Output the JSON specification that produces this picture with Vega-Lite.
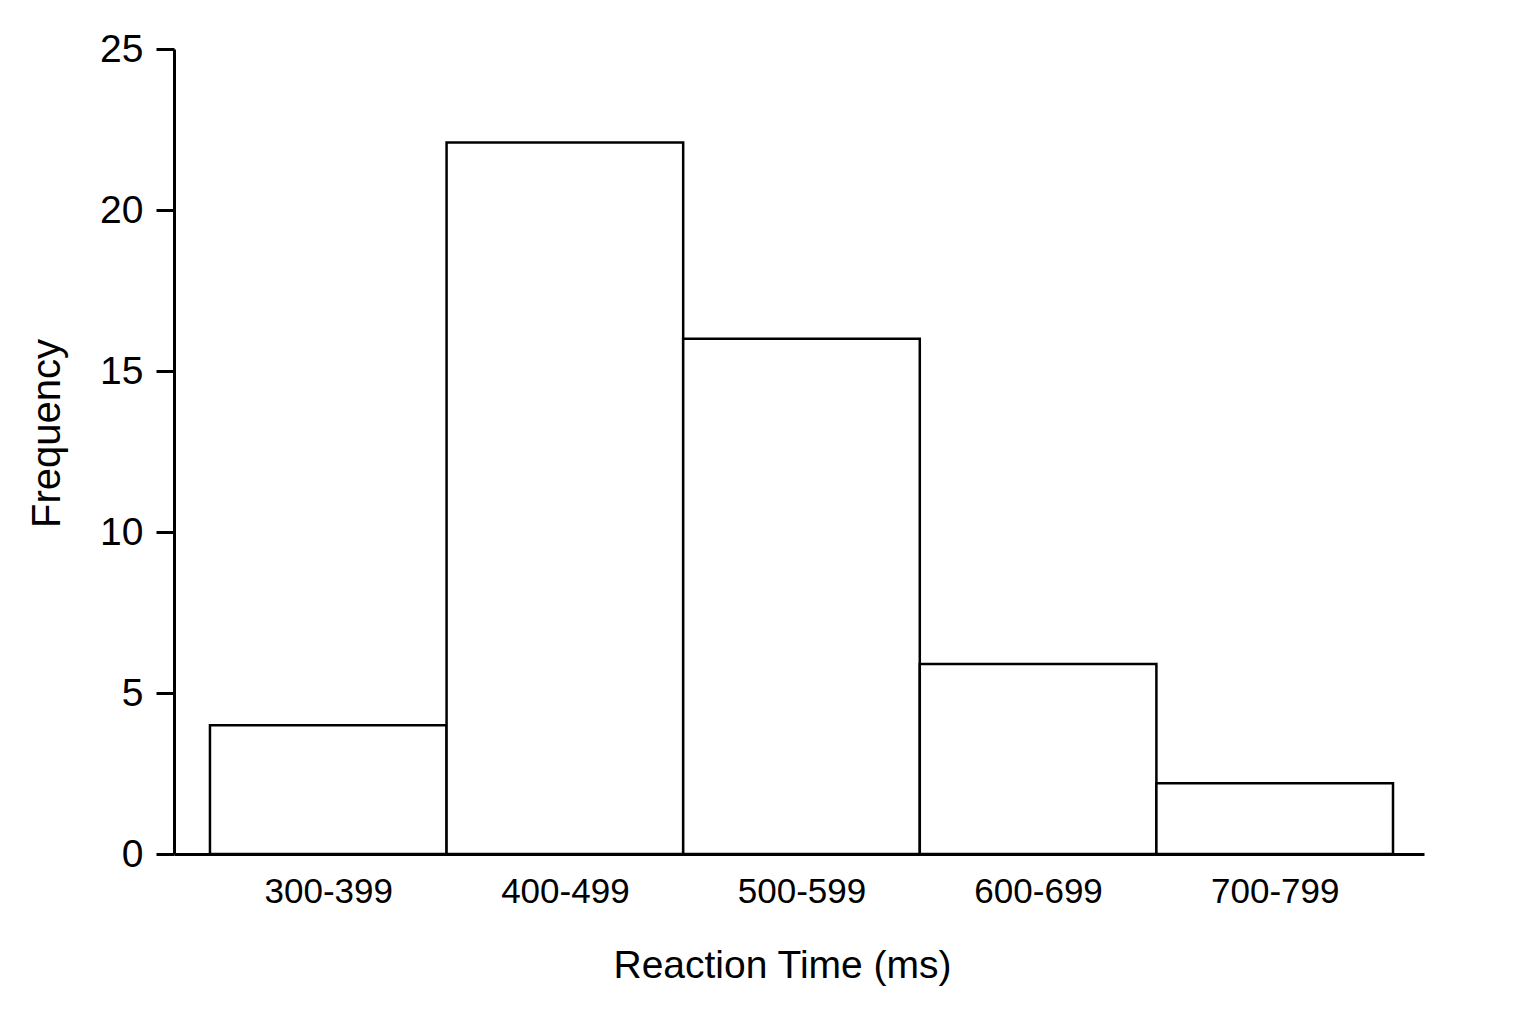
{
  "$schema": "https://vega.github.io/schema/vega-lite/v6.json",
  "width": 1250,
  "height": 805,
  "autosize": {"type": "none"},
  "padding": {"left": 174, "top": 49, "right": 112, "bottom": 170},
  "background": "white",
  "config": {
    "view": {"stroke": null},
    "font": "Liberation Sans",
    "axis": {
      "grid": false,
      "domainColor": "black",
      "domainWidth": 3,
      "tickColor": "black",
      "tickWidth": 3,
      "labelColor": "black",
      "titleColor": "black",
      "labelFont": "Liberation Sans",
      "titleFont": "Liberation Sans",
      "titleFontWeight": "normal"
    }
  },
  "data": {
    "values": [
      {"range": "300-399", "start": 300, "end": 400, "frequency": 4},
      {"range": "400-499", "start": 400, "end": 500, "frequency": 22.1},
      {"range": "500-599", "start": 500, "end": 600, "frequency": 16},
      {"range": "600-699", "start": 600, "end": 700, "frequency": 5.9},
      {"range": "700-799", "start": 700, "end": 800, "frequency": 2.2}
    ]
  },
  "mark": {"type": "bar", "fill": "white", "stroke": "black", "strokeWidth": 2.5},
  "encoding": {
    "x": {
      "field": "start",
      "type": "quantitative",
      "scale": {"domain": [284.8, 813.1], "nice": false, "zero": false, "padding": 0},
      "axis": {
        "values": [350, 450, 550, 650, 750],
        "labelExpr": "floor(datum.value / 100) * 100 + '-' + (floor(datum.value / 100) * 100 + 99)",
        "ticks": false,
        "tickSize": 0,
        "labelFontSize": 35,
        "labelPadding": 48,
        "labelBaseline": "alphabetic",
        "labelFlush": false,
        "labelOverlap": false,
        "title": "Reaction Time (ms)",
        "titleFontSize": 39,
        "titleX": 608,
        "titleY": 123,
        "titleBaseline": "alphabetic",
        "titleAlign": "center"
      }
    },
    "x2": {"field": "end"},
    "y": {
      "field": "frequency",
      "type": "quantitative",
      "scale": {"domain": [0, 25], "nice": false, "padding": 0},
      "axis": {
        "values": [0, 5, 10, 15, 20, 25],
        "tickSize": 18,
        "labelFontSize": 39,
        "labelPadding": 13,
        "title": "Frequency",
        "titleFontSize": 40,
        "titleAngle": -90,
        "titleX": -115,
        "titleY": 384,
        "titleBaseline": "alphabetic",
        "titleAlign": "center"
      }
    },
    "y2": {"datum": 0}
  }
}
